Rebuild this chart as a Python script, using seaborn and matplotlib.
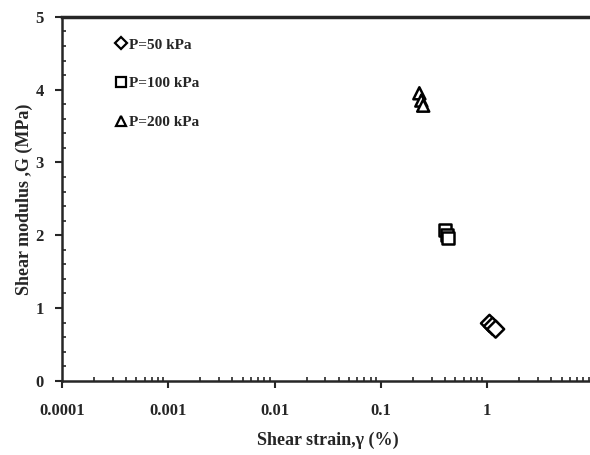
import pandas as pd
import seaborn as sns
import matplotlib
matplotlib.use('Agg')
import matplotlib.pyplot as plt
from matplotlib.ticker import LogLocator, FixedLocator, MultipleLocator

sns.set_style('ticks')
plt.rcParams['font.family'] = ['Liberation Serif', 'DejaVu Serif']
plt.rcParams['font.weight'] = 'bold'

# values
labels = ['P=50 kPa', 'P=100 kPa', 'P=200 kPa']
strain_50 = [1.05, 1.12, 1.20]
modulus_50 = [0.79, 0.75, 0.71]
strain_100 = [0.40, 0.42, 0.43]
modulus_100 = [2.07, 2.00, 1.96]
strain_200 = [0.23, 0.24, 0.25]
modulus_200 = [3.95, 3.85, 3.78]
x_ticks = [0.0001, 0.001, 0.01, 0.1, 1]
x_tick_labels = ['0.0001', '0.001', '0.01', '0.1', '1']
y_ticks = [0, 1, 2, 3, 4, 5]

df = pd.DataFrame({
    'strain': strain_50 + strain_100 + strain_200,
    'G': modulus_50 + modulus_100 + modulus_200,
    'P': [labels[0]] * 3 + [labels[1]] * 3 + [labels[2]] * 3,
})

fig = plt.figure(figsize=(5.9, 4.55), dpi=100)
ax = fig.add_axes([0.105, 0.163, 0.901, 0.8])

sns.scatterplot(data=df, x='strain', y='G', style='P', style_order=labels,
                markers={labels[0]: 'D', labels[1]: 's', labels[2]: '^'},
                s=75, facecolor='white', edgecolor='black', linewidth=1.8,
                color='black', ax=ax)

ax.set_xscale('log')
ax.set_xlim(0.0001, 10)
ax.set_ylim(0, 5)
ax.xaxis.set_major_locator(FixedLocator(x_ticks))
ax.set_xticklabels(x_tick_labels)
ax.xaxis.set_minor_locator(LogLocator(base=10, subs=range(2, 10)))
ax.set_yticks(y_ticks)
ax.yaxis.set_minor_locator(MultipleLocator(0.2))

ax.tick_params(which='major', direction='out', length=5, width=1.5,
               labelsize=12, pad=8)
ax.tick_params(which='minor', direction='in', length=3, width=1.2)
ax.tick_params(axis='x', which='major', pad=11)
for lab in ax.get_xticklabels() + ax.get_yticklabels():
    lab.set_fontweight('bold')

for side in ['left', 'bottom']:
    ax.spines[side].set_linewidth(1.8)
ax.spines['top'].set_visible(True)
ax.spines['top'].set_linewidth(2.5)
ax.spines['right'].set_visible(False)

ax.set_xlabel('Shear strain,\u03b3 (%)', fontsize=13, fontweight='bold', labelpad=9)
ax.set_ylabel('Shear modulus ,G (MPa)', fontsize=13, fontweight='bold', labelpad=2)

leg = ax.legend(loc='upper left', bbox_to_anchor=(0.068, 0.98), frameon=False,
                labelspacing=1.65, handletextpad=-0.1, handlelength=1.2,
                prop={'weight': 'bold', 'size': 11})
for h in leg.legend_handles:
    h.set_markersize(6.5)
    h.set_markeredgewidth(1.6)
    h.set_markerfacecolor('white')
    h.set_markeredgecolor('black')

fig.savefig('out.png', dpi=100)
